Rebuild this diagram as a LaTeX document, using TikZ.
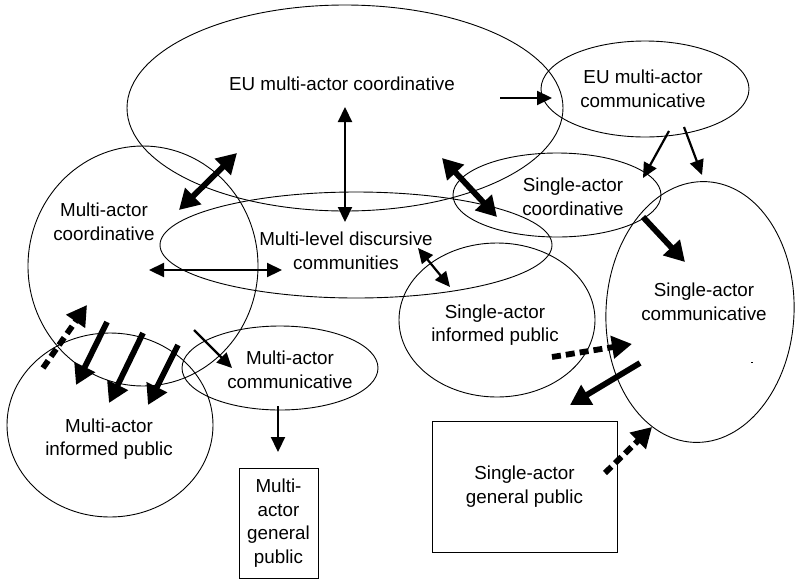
\documentclass[tikz,border=0pt]{standalone}
\usepackage{fontspec}
\setmainfont{Liberation Sans}
\usetikzlibrary{arrows.meta,shapes.geometric}
\begin{document}
\begin{tikzpicture}[x=1pt,y=-1pt,
  ell/.style={draw, ellipse, line width=0.9pt, inner sep=0pt},
  lbl/.style={align=center, font=\fontsize{18.8}{23.5}\selectfont, inner sep=0pt},
  boxn/.style={draw, rectangle, line width=0.9pt, align=center, inner sep=0pt,
               font=\fontsize{18.8}{23.5}\selectfont},
  med/.style={line width=2.2pt, -{Triangle[length=15pt,width=14pt]}},
  medd/.style={line width=2.2pt, {Triangle[length=15pt,width=14pt]}-{Triangle[length=15pt,width=14pt]}},
  thk/.style={line width=5.8pt, -{Triangle[length=20pt,width=22pt]}},
  thkd/.style={line width=5.8pt, {Triangle[length=20pt,width=22pt]}-{Triangle[length=20pt,width=22pt]}},
  dsh/.style={thk, dash pattern=on 9pt off 5pt},
]
\useasboundingbox (0,0) rectangle (795,579);

% ellipses / circles
\node[ell, minimum width=436pt, minimum height=206pt] (eucoord) at (345,108) {};
\node[ell, minimum width=208pt, minimum height=96pt] (eucomm) at (645,89) {};
\node[ell, minimum width=230pt, minimum height=240pt] (macoord) at (143,266) {};
\node[ell, minimum width=392pt, minimum height=106pt] (mldc) at (356,245) {};
\node[ell, minimum width=208pt, minimum height=84pt] (sacoord) at (557,195) {};
\node[ell, minimum width=188pt, minimum height=261pt, rotate=-3] (sacomm) at (700,312) {};
\node[ell, minimum width=196pt, minimum height=154pt] (saip) at (497,320) {};
\node[ell, minimum width=196pt, minimum height=84pt] (macomm) at (280,368) {};
\node[ell, minimum width=206pt, minimum height=184pt] (maip) at (110,425) {};

% labels
\node[lbl] (teucoord) at (342,84) {EU multi-actor coordinative};
\node[lbl] (teucomm) at (643,89) {EU multi-actor\\communicative};
\node[lbl] (tmacoord) at (104,222) {Multi-actor\\coordinative};
\node[lbl] (tmldc) at (346,251) {Multi-level discursive\\communities};
\node[lbl] (tsacoord) at (573,197) {Single-actor\\coordinative};
\node[lbl] (tsacomm) at (704,302) {Single-actor\\communicative};
\node[lbl] (tsaip) at (495,325) {Single-actor\\informed public};
\node[lbl] (tmacomm) at (290,370) {Multi-actor\\communicative};
\node[lbl] (tmaip) at (109,439) {Multi-actor\\informed public};

% boxes
\node[boxn, minimum width=79pt, minimum height=110pt] (magp) at (278.5,523) {Multi-\\actor\\general\\public};
\node[boxn, minimum width=185pt, minimum height=131pt] (sagp) at (524.5,486.5) {Single-actor\\general public};

% stray mark
\fill (751,361.5) rectangle (753,362.5);

% arrow end points
\coordinate (a1s) at (500,98);   \coordinate (a1e) at (552,98);
\coordinate (a2s) at (345,107);  \coordinate (a2e) at (345,222);
\coordinate (a3s) at (179,210);  \coordinate (a3e) at (237,153);
\coordinate (a4s) at (442,158);  \coordinate (a4e) at (497,217);
\coordinate (a5s) at (149,270);  \coordinate (a5e) at (282,270);
\coordinate (a6s) at (418,248);  \coordinate (a6e) at (450,287);
\coordinate (a7s) at (669,131);  \coordinate (a7e) at (643,178);
\coordinate (a8s) at (684,127);  \coordinate (a8e) at (702,175);
\coordinate (a9s) at (643,217);  \coordinate (a9e) at (685,262);
\coordinate (b1s) at (552,357);  \coordinate (b1e) at (632,344);
\coordinate (b2s) at (640,363);  \coordinate (b2e) at (570,405);
\coordinate (b3s) at (605,473);  \coordinate (b3e) at (652,427);
\coordinate (b4s) at (278,406);  \coordinate (b4e) at (278,452);
\coordinate (c1s) at (43,368);   \coordinate (c1e) at (87,305);
\coordinate (c2s) at (107,322);  \coordinate (c2e) at (76,385);
\coordinate (c3s) at (143,333);  \coordinate (c3e) at (109,403);
\coordinate (c4s) at (178,345);  \coordinate (c4e) at (148,405);
\coordinate (c5s) at (194,330);  \coordinate (c5e) at (232,368);

% arrows
\draw[med] (a1s) -- (a1e);
\draw[medd] (a2s) -- (a2e);
\draw[thkd] (a3s) -- (a3e);
\draw[thkd] (a4s) -- (a4e);
\draw[medd] (a5s) -- (a5e);
\draw[medd] (a6s) -- (a6e);
\draw[med] (a7s) -- (a7e);
\draw[med] (a8s) -- (a8e);
\draw[thk] (a9s) -- (a9e);
\draw[dsh] (b1s) -- (b1e);
\draw[thk] (b2s) -- (b2e);
\draw[dsh] (b3s) -- (b3e);
\draw[med] (b4s) -- (b4e);
\draw[dsh] (c1s) -- (c1e);
\draw[thk] (c2s) -- (c2e);
\draw[thk] (c3s) -- (c3e);
\draw[thk] (c4s) -- (c4e);
\draw[med] (c5s) -- (c5e);
\end{tikzpicture}
\end{document}
